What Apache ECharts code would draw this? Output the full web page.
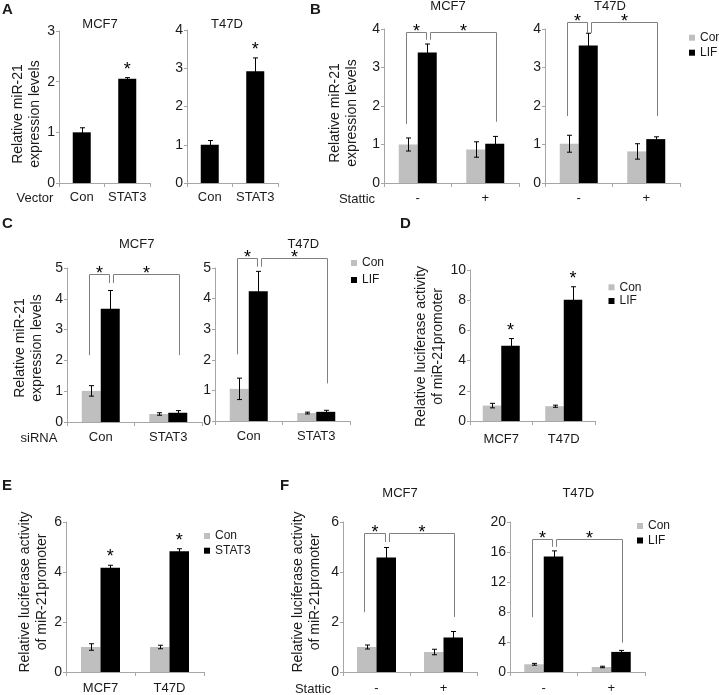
<!DOCTYPE html>
<html><head><meta charset="utf-8">
<script src="https://cdn.jsdelivr.net/npm/echarts/dist/echarts.min.js"></script>
<style>html,body{margin:0;padding:0;background:#fff}#c{width:719px;height:695px}</style>
</head><body><div id="c"></div>
<script>
// ---------- DATA ----------
// Panel A: miR-21 levels, vector Con vs STAT3
const aCats = ['Con', 'STAT3'];
const aMcf7 = [1.0, 2.06];
const aMcf7Err = [0.09, 0.02];
const aT47d = [1.0, 2.92];
const aT47dErr = [0.11, 0.35];
// Panel B: Stattic -/+ , Con vs LIF
const bCats = ['-', '+'];
const bMcf7Con = [1.0, 0.87];
const bMcf7ConErr = [0.17, 0.2];
const bMcf7Lif = [3.39, 1.02];
const bMcf7LifErr = [0.22, 0.19];
const bT47dCon = [1.02, 0.82];
const bT47dConErr = [0.22, 0.2];
const bT47dLif = [3.57, 1.14];
const bT47dLifErr = [0.32, 0.06];
// Panel C: siRNA Con / STAT3, Con vs LIF
const cCats = ['Con', 'STAT3'];
const cMcf7Con = [1.01, 0.26];
const cMcf7ConErr = [0.17, 0.04];
const cMcf7Lif = [3.68, 0.3];
const cMcf7LifErr = [0.59, 0.07];
const cT47dCon = [1.05, 0.26];
const cT47dConErr = [0.35, 0.03];
const cT47dLif = [4.24, 0.3];
const cT47dLifErr = [0.65, 0.05];
// Panel D: luciferase, Con vs LIF
const dCats = ['MCF7', 'T47D'];
const dCon = [1.02, 0.98];
const dConErr = [0.15, 0.07];
const dLif = [4.98, 8.03];
const dLifErr = [0.48, 0.86];
// Panel E: luciferase, Con vs STAT3
const eCats = ['MCF7', 'T47D'];
const eCon = [1.0, 1.0];
const eConErr = [0.13, 0.07];
const eStat3 = [4.17, 4.83];
const eStat3Err = [0.1, 0.1];
// Panel F: luciferase, Stattic -/+ , Con vs LIF
const fCats = ['-', '+'];
const fMcf7Con = [1.0, 0.8];
const fMcf7ConErr = [0.08, 0.11];
const fMcf7Lif = [4.58, 1.38];
const fMcf7LifErr = [0.4, 0.24];
const fT47dCon = [1.03, 0.67];
const fT47dConErr = [0.12, 0.1];
const fT47dLif = [15.4, 2.68];
const fT47dLifErr = [0.75, 0.2];
// Significance brackets: [fromCat, fromBar, toCat, toBar, topValue, leftArmLow, rightArmLow]
const bMcf7Brackets = [[0, 0, 0, 1, 3.91, 1.53, 3.72], [0, 1, 1, 1, 3.91, 3.72, 1.59]];
const bT47dBrackets = [[0, 0, 0, 1, 4.17, 1.74, 3.9], [0, 1, 1, 1, 4.17, 3.9, 1.74]];
const cMcf7Brackets = [[0, 0, 0, 1, 4.81, 2.17, 4.51], [0, 1, 1, 1, 4.81, 4.51, 2.17]];
const cT47dBrackets = [[0, 0, 0, 1, 5.34, 2.18, 5.04], [0, 1, 1, 1, 5.34, 5.04, 1.23]];
const fMcf7Brackets = [[0, 0, 0, 1, 5.56, 2.39, 5.2], [0, 1, 1, 1, 5.56, 5.2, 2.2]];
const fT47dBrackets = [[0, 0, 0, 1, 17.7, 7.3, 16.7], [0, 1, 1, 1, 17.7, 16.7, 3.9]];
// Axis names
const yMiR = 'Relative miR-21\nexpression levels';
const yLuc = 'Relative luciferase activity\nof miR-21promoter';

// ---------- STYLE ----------
const FONT = '"Liberation Sans", Arial, Helvetica, sans-serif';
const GRAY = '#bfbfbf', BLACK = '#000000', AXIS = '#a6a6a6', TXT = '#1a1a1a', BR = '#808080';

function errRender(bw, sign) {
  return function (params, api) {
    const c = api.value(0);
    const v = api.value(1), e = api.value(2);
    const x = Math.round(api.coord([c, 0])[0] + sign * bw / 2) + 0.5;
    const yT = api.coord([c, v + e])[1];
    const yB = api.coord([c, v - e])[1];
    const cap = 2.5, st = { stroke: '#000', lineWidth: 1 };
    return { type: 'group', children: [
      { type: 'line', shape: { x1: x, y1: yT, x2: x, y2: yB }, style: st },
      { type: 'line', shape: { x1: x - cap, y1: yT, x2: x + cap, y2: yT }, style: st },
      { type: 'line', shape: { x1: x - cap, y1: yB, x2: x + cap, y2: yB }, style: st }
    ] };
  };
}
function bracketRender(bw) {
  return function (params, api) {
    const fc = api.value(0), fb = api.value(1), tc = api.value(2), tb = api.value(3);
    const top = api.value(4), lowL = api.value(5), lowR = api.value(6);
    const cx = (c) => api.coord([c, 0])[0];
    const xL = Math.round(cx(fc) + (fb === 0 ? -bw / 2 - 2.5 : bw / 2 + 2.5)) + 0.5;
    const xR = Math.round(cx(tc) + (tb === 0 ? -bw / 2 : bw / 2) + (tc === fc ? -1.5 : 1)) + 0.5;
    const yT = Math.round(api.coord([fc, top])[1]) + 0.5;
    const yL = api.coord([fc, lowL])[1];
    const yR = api.coord([fc, lowR])[1];
    return { type: 'group', children: [
      { type: 'polyline', shape: { points: [[xL, yL], [xL, yT], [xR, yT], [xR, yR]] },
        style: { stroke: BR, lineWidth: 1, fill: null } },
      { type: 'text', x: (xL + xR) / 2, y: yT - 0.5,
        style: { text: '*', font: '18px ' + FONT, fill: '#000', align: 'center', verticalAlign: 'middle',
                 textAlign: 'center', textVerticalAlign: 'middle' } }
    ] };
  };
}
function starRender(bw) {
  return function (params, api) {
    const c = api.value(0), v = api.value(1), sign = api.value(2);
    const p = api.coord([c, v]);
    return { type: 'text', x: p[0] + sign * bw / 2, y: p[1] - 8,
      style: { text: '*', font: '18px ' + FONT, fill: '#000', align: 'center', verticalAlign: 'middle',
               textAlign: 'center', textVerticalAlign: 'middle' } };
  };
}

const panels = [
  { g: { left: 59, top: 31, width: 91, height: 152 }, cats: aCats, max: 3, interval: 1, bw: 18, lm: 8,
    series: [{ name: 'A-MCF7', data: aMcf7, err: aMcf7Err, color: BLACK }], stars: [[1, 0]],
    yName: yMiR, nameGap: 13, shift: 7 },
  { g: { left: 187, top: 30, width: 91, height: 153 }, cats: aCats, max: 4, interval: 1, bw: 18, lm: 8,
    series: [{ name: 'A-T47D', data: aT47d, err: aT47dErr, color: BLACK }], stars: [[1, 0]] },
  { g: { left: 384, top: 29, width: 135, height: 154 }, cats: bCats, max: 4, interval: 1, bw: 19, lm: 9,
    series: [{ name: 'Con', data: bMcf7Con, err: bMcf7ConErr, color: GRAY }, { name: 'LIF', data: bMcf7Lif, err: bMcf7LifErr, color: BLACK }],
    brackets: bMcf7Brackets, yName: yMiR, nameGap: 23, shift: 7 },
  { g: { left: 545, top: 29, width: 135, height: 154 }, cats: bCats, max: 4, interval: 1, bw: 19, lm: 9,
    series: [{ name: 'Con', data: bT47dCon, err: bT47dConErr, color: GRAY }, { name: 'LIF', data: bT47dLif, err: bT47dLifErr, color: BLACK }],
    brackets: bT47dBrackets },
  { g: { left: 67, top: 268, width: 135, height: 154 }, cats: cCats, max: 5, interval: 1, bw: 19, lm: 9,
    series: [{ name: 'Con', data: cMcf7Con, err: cMcf7ConErr, color: GRAY }, { name: 'LIF', data: cMcf7Lif, err: cMcf7LifErr, color: BLACK }],
    brackets: cMcf7Brackets, yName: yMiR, nameGap: 21, shift: 3 },
  { g: { left: 215, top: 268, width: 135, height: 153 }, cats: cCats, max: 5, interval: 1, bw: 19, lm: 9,
    series: [{ name: 'Con', data: cT47dCon, err: cT47dConErr, color: GRAY }, { name: 'LIF', data: cT47dLif, err: cT47dLifErr, color: BLACK }],
    brackets: cT47dBrackets },
  { g: { left: 470, top: 270, width: 125, height: 151 }, cats: dCats, max: 10, interval: 2, bw: 18.5, lm: 12,
    series: [{ name: 'Con', data: dCon, err: dConErr, color: GRAY }, { name: 'LIF', data: dLif, err: dLifErr, color: BLACK }],
    stars: [[0, 1], [1, 1]], yName: yLuc, nameGap: 23, shift: 1 },
  { g: { left: 66, top: 522, width: 138, height: 150 }, cats: eCats, max: 6, interval: 2, bw: 19.5, lm: 10,
    series: [{ name: 'Con', data: eCon, err: eConErr, color: GRAY }, { name: 'STAT3', data: eStat3, err: eStat3Err, color: BLACK }],
    stars: [[0, 1], [1, 1]], yName: yLuc, nameGap: 14, shift: -5 },
  { g: { left: 343, top: 522, width: 134, height: 150 }, cats: fCats, max: 6, interval: 2, bw: 19.5, lm: 10,
    series: [{ name: 'Con', data: fMcf7Con, err: fMcf7ConErr, color: GRAY }, { name: 'LIF', data: fMcf7Lif, err: fMcf7LifErr, color: BLACK }],
    brackets: fMcf7Brackets, yName: yLuc, nameGap: 19, shift: -5 },
  { g: { left: 510, top: 522, width: 135, height: 150 }, cats: fCats, max: 20, interval: 4, bw: 19.5, lm: 10,
    series: [{ name: 'Con', data: fT47dCon, err: fT47dConErr, color: GRAY }, { name: 'LIF', data: fT47dLif, err: fT47dLifErr, color: BLACK }],
    brackets: fT47dBrackets }
];

const grid = [], xAxis = [], yAxis = [], series = [];
panels.forEach((p, gi) => {
  grid.push(Object.assign({ containLabel: false }, p.g));
  xAxis.push({ gridIndex: gi, type: 'category', data: p.cats,
    axisLine: { lineStyle: { color: AXIS, width: 1 } },
    axisTick: { show: true, length: 4, lineStyle: { color: AXIS } },
    axisLabel: { interval: 0, fontSize: 13, fontFamily: FONT, color: TXT, margin: p.lm } });
  const y = { gridIndex: gi, type: 'value', min: 0, max: p.max, interval: p.interval,
    axisLine: { show: true, lineStyle: { color: AXIS, width: 1 } },
    axisTick: { show: true, length: 3, lineStyle: { color: AXIS } },
    splitLine: { show: false },
    axisLabel: { fontSize: 14, fontFamily: FONT, color: TXT, margin: 4 } };
  if (p.yName) {
    Object.assign(y, { name: p.yName, nameLocation: 'middle', nameRotate: 90, nameGap: p.nameGap,
      nameTextStyle: { fontSize: 14, fontFamily: FONT, color: TXT, lineHeight: 17,
        padding: p.shift >= 0 ? [0, 2 * p.shift, 0, 0] : [0, 0, 0, -2 * p.shift] } });
  }
  yAxis.push(y);
  const n = p.series.length;
  p.series.forEach((s, si) => {
    const sign = n === 1 ? 0 : (si === 0 ? -1 : 1);
    series.push({ type: 'bar', name: s.name, xAxisIndex: gi, yAxisIndex: gi, data: s.data,
      barWidth: p.bw, barGap: '0%', itemStyle: { color: s.color }, silent: true });
    series.push({ type: 'custom', xAxisIndex: gi, yAxisIndex: gi, silent: true, z: 3,
      data: s.data.map((v, i) => [i, v, s.err[i]]), renderItem: errRender(p.bw, sign) });
  });
  if (p.brackets) {
    series.push({ type: 'custom', xAxisIndex: gi, yAxisIndex: gi, silent: true, z: 4,
      data: p.brackets, renderItem: bracketRender(p.bw) });
  }
  if (p.stars) {
    series.push({ type: 'custom', xAxisIndex: gi, yAxisIndex: gi, silent: true, z: 4,
      data: p.stars.map(([c, si]) => {
        const s = p.series[si];
        return [c, s.data[c] + s.err[c], n === 1 ? 0 : (si === 0 ? -1 : 1)];
      }), renderItem: starRender(p.bw) });
  }
});

function mkLegend(left, top, gap, names) {
  return { left: left, top: top, orient: 'vertical', itemWidth: 6, itemHeight: 6, itemGap: gap,
    icon: 'rect', data: names, selectedMode: false, padding: 0,
    textStyle: { fontSize: 12, fontFamily: FONT, color: TXT, lineHeight: 12 } };
}
const legend = [
  mkLegend(689, 31.7, 3, ['Con', 'LIF']),
  mkLegend(351, 257, 5, ['Con', 'LIF']),
  mkLegend(608.5, 281.3, 1.7, ['Con', 'LIF']),
  mkLegend(204, 530, 2.7, ['Con', 'STAT3']),
  mkLegend(637, 520, 2.5, ['Con', 'LIF'])
];

function t(text, x, y, size, bold, align) {
  return { text: text, left: x, top: y, textAlign: align || 'center', padding: 0,
    textStyle: { fontSize: size, fontFamily: FONT, color: TXT, fontWeight: bold ? 'bold' : 'normal' } };
}
const title = [
  t('A', 2, 2.5, 15, true, 'left'), t('B', 310, 2, 15, true, 'left'), t('C', 2, 216.5, 15, true, 'left'),
  t('D', 400, 216, 15, true, 'left'), t('E', 2, 478.5, 15, true, 'left'), t('F', 280, 478.5, 15, true, 'left'),
  t('MCF7', 100, 18, 13), t('T47D', 227, 18, 13),
  t('MCF7', 448, 0, 13), t('T47D', 610, 0, 13),
  t('MCF7', 136.7, 238, 13), t('T47D', 303.3, 238, 13),
  t('MCF7', 400, 486.5, 13), t('T47D', 578.3, 486.5, 13),
  t('Vector', 35, 191.5, 13), t('Stattic', 357, 192.5, 13),
  t('siRNA', 39, 431.5, 13), t('Stattic', 313, 683, 13)
];

const chart = echarts.init(document.getElementById('c'), null, { renderer: 'canvas' });
chart.setOption({ animation: false, backgroundColor: '#fff', title: title, legend: legend,
  grid: grid, xAxis: xAxis, yAxis: yAxis, series: series });
</script></body></html>
